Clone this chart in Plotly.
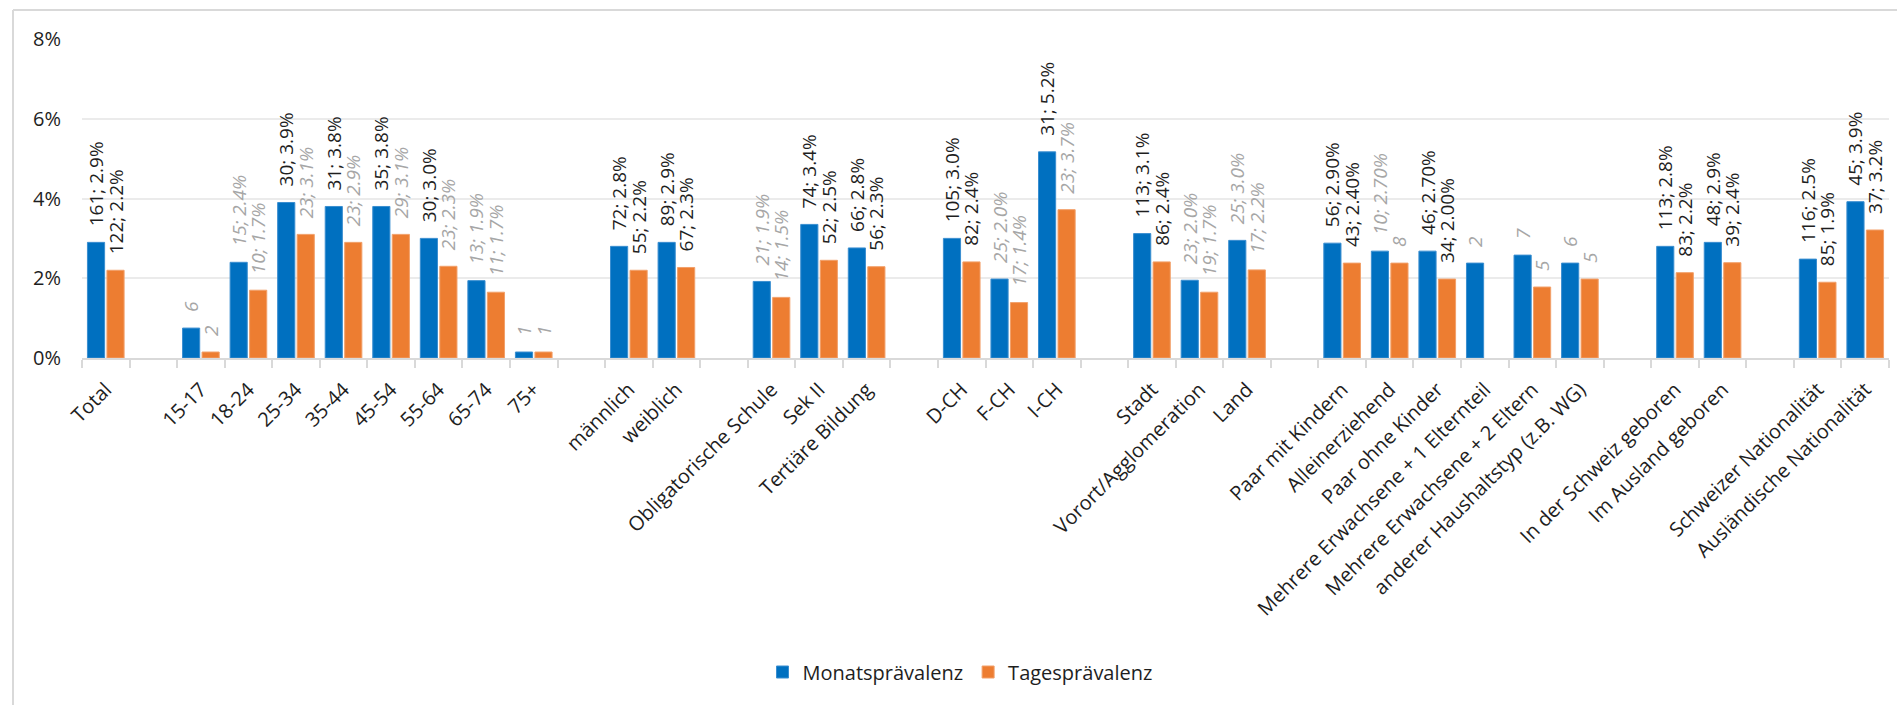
import plotly.graph_objects as go

# ---------------- data ----------------
categories = [
    "Total", "",
    "15-17", "18-24", "25-34", "35-44", "45-54", "55-64", "65-74", "75+", "",
    "männlich", "weiblich", "",
    "Obligatorische Schule", "Sek II", "Tertiäre Bildung", "",
    "D-CH", "F-CH", "I-CH", "",
    "Stadt", "Vorort/Agglomeration", "Land", "",
    "Paar mit Kindern", "Alleinerziehend", "Paar ohne Kinder",
    "Mehrere Erwachsene + 1 Elternteil", "Mehrere Erwachsene + 2 Eltern",
    "anderer Haushaltstyp (z.B. WG)", "",
    "In der Schweiz geboren", "Im Ausland geboren", "",
    "Schweizer Nationalität", "Ausländische Nationalität",
]

monat = [
    2.9, None,
    0.75, 2.4, 3.9, 3.8, 3.8, 3.0, 1.94, 0.15, None,
    2.8, 2.9, None,
    1.92, 3.35, 2.76, None,
    3.0, 1.98, 5.17, None,
    3.12, 1.95, 2.95, None,
    2.88, 2.68, 2.68, 2.38, 2.58, 2.38, None,
    2.8, 2.9, None,
    2.48, 3.92,
]

tages = [
    2.2, None,
    0.15, 1.7, 3.1, 2.9, 3.1, 2.3, 1.65, 0.15, None,
    2.2, 2.27, None,
    1.52, 2.45, 2.29, None,
    2.41, 1.39, 3.72, None,
    2.41, 1.65, 2.21, None,
    2.38, 2.38, 1.98, None, 1.78, 1.98, None,
    2.14, 2.39, None,
    1.9, 3.21,
]

monat_labels = [
    "161; 2.9%", "",
    "6", "15; 2.4%", "30; 3.9%", "31; 3.8%", "35; 3.8%", "30; 3.0%", "13; 1.9%", "1", "",
    "72; 2.8%", "89; 2.9%", "",
    "21; 1.9%", "74; 3.4%", "66; 2.8%", "",
    "105; 3.0%", "25; 2.0%", "31; 5.2%", "",
    "113; 3.1%", "23; 2.0%", "25; 3.0%", "",
    "56; 2.90%", "10; 2.70%", "46; 2.70%", "2", "7", "6", "",
    "113; 2.8%", "48; 2.9%", "",
    "116; 2.5%", "45; 3.9%",
]

tages_labels = [
    "122; 2.2%", "",
    "2", "10; 1.7%", "23; 3.1%", "23; 2.9%", "29; 3.1%", "23; 2.3%", "11; 1.7%", "1", "",
    "55; 2.2%", "67; 2.3%", "",
    "14; 1.5%", "52; 2.5%", "56; 2.3%", "",
    "82; 2.4%", "17; 1.4%", "23; 3.7%", "",
    "86; 2.4%", "19; 1.7%", "17; 2.2%", "",
    "43; 2.40%", "8", "34; 2.00%", "", "5", "5", "",
    "83; 2.2%", "39; 2.4%", "",
    "85; 1.9%", "37; 3.2%",
]

# 1 = small sample (grey italic label)
monat_small = [
    0, 0,
    1, 1, 0, 0, 0, 0, 1, 1, 0,
    0, 0, 0,
    1, 0, 0, 0,
    0, 1, 0, 0,
    0, 1, 1, 0,
    0, 1, 0, 1, 1, 1, 0,
    0, 0, 0,
    0, 0,
]
tages_small = [
    0, 0,
    1, 1, 1, 1, 1, 1, 1, 1, 0,
    0, 0, 0,
    1, 0, 0, 0,
    0, 1, 1, 0,
    0, 1, 1, 0,
    0, 1, 0, 0, 1, 1, 0,
    0, 0, 0,
    0, 0,
]

y_ticks = [0, 2, 4, 6, 8]
y_ticktext = ["0%", "2%", "4%", "6%", "8%"]

# ---------------- styling ----------------
BLUE = "#0070C0"
ORANGE = "#ED7D31"
DARK = "#1E1E1E"
GREY = "#A6A6A6"
FONT = "Open Sans"
PAD = "\u00a0\u00a0\u2009"

W, H = 1897, 705
ML, MR, MT, MB = 82, 8, 39, 347
PW = W - ML - MR
PH = H - MT - MB

x = list(range(len(categories)))
tickvals = [i for i, c in enumerate(categories) if c]
ticktext = [c for c in categories if c]


def label_list(labels):
    return [(PAD + t) if t else "" for t in labels]


def colors(flags):
    return [GREY if f else DARK for f in flags]


def styles(flags):
    return ["italic" if f else "normal" for f in flags]


fig = go.Figure()
fig.add_trace(go.Bar(
    name="Monatsprävalenz", x=x, y=monat,
    marker=dict(color=BLUE, line=dict(width=1, color="#3A8ED0")),
    text=label_list(monat_labels), textposition="outside", textangle=-90,
    textfont=dict(family=FONT, size=19, color=colors(monat_small), style=styles(monat_small)),
    constraintext="none", cliponaxis=False, hoverinfo="skip",
))
fig.add_trace(go.Bar(
    name="Tagesprävalenz", x=x, y=tages,
    marker=dict(color=ORANGE, line=dict(width=1, color="#F2A06A")),
    text=label_list(tages_labels), textposition="outside", textangle=-90,
    textfont=dict(family=FONT, size=19, color=colors(tages_small), style=styles(tages_small)),
    constraintext="none", cliponaxis=False, hoverinfo="skip",
))

# chart-area border (top and left edge visible)
bx0 = (13 - ML) / PW
by1 = 1 + (MT - 10) / PH
shapes = [
    dict(type="line", xref="paper", yref="paper", x0=bx0, x1=1 + (MR + 5) / PW, y0=by1, y1=by1,
         line=dict(color="#D9D9D9", width=2)),
    dict(type="line", xref="paper", yref="paper", x0=bx0, x1=bx0, y0=by1, y1=-(MB + 5) / PH,
         line=dict(color="#D9D9D9", width=2)),
]

fig.update_layout(
    width=W, height=H,
    margin=dict(l=ML, r=MR, t=MT, b=MB),
    paper_bgcolor="white", plot_bgcolor="white",
    barmode="group", bargap=0.18, bargroupgap=0.12,
    font=dict(family=FONT, color=DARK),
    showlegend=True,
    legend=dict(
        orientation="h", x=(960 - ML) / PW, xanchor="center",
        y=(MT + PH - 672) / PH, yanchor="middle",
        font=dict(family=FONT, size=20, color=DARK),
        itemwidth=30, bgcolor="rgba(0,0,0,0)",
    ),
    shapes=shapes,
    xaxis=dict(
        range=[-0.5, len(categories) - 0.5],
        tickmode="array", tickvals=tickvals, ticktext=ticktext,
        tickangle=-45, ticks="", ticklen=0,
        tickfont=dict(family=FONT, size=20, color=DARK),
        showline=True, linecolor="#D9D9D9", linewidth=2,
        showgrid=False, zeroline=False,
        minor=dict(tickmode="linear", tick0=0.5, dtick=1, ticks="outside",
                   ticklen=8, tickcolor="#D9D9D9", tickwidth=2, showgrid=False),
        ticklabelstandoff=10,
        fixedrange=True,
    ),
    xaxis2=dict(
        overlaying="x", matches="x", anchor="y", side="bottom",
        range=[-0.5, len(categories) - 0.5],
        showticklabels=False, ticks="", showline=False, showgrid=False, zeroline=False,
        minor=dict(tickmode="linear", tick0=0.5, dtick=1, ticks="inside",
                   ticklen=6, tickcolor="#D9D9D9", tickwidth=2, showgrid=False),
        fixedrange=True,
    ),
    yaxis=dict(
        range=[0, 8], tickmode="array", tickvals=y_ticks, ticktext=y_ticktext,
        tickfont=dict(family=FONT, size=20, color=DARK),
        showgrid=True, gridcolor="#EBEBEB", gridwidth=1.5,
        zeroline=False, showline=False, ticks="",
        ticklabelstandoff=20,
        fixedrange=True,
    ),
)

fig.write_html("out.html")
